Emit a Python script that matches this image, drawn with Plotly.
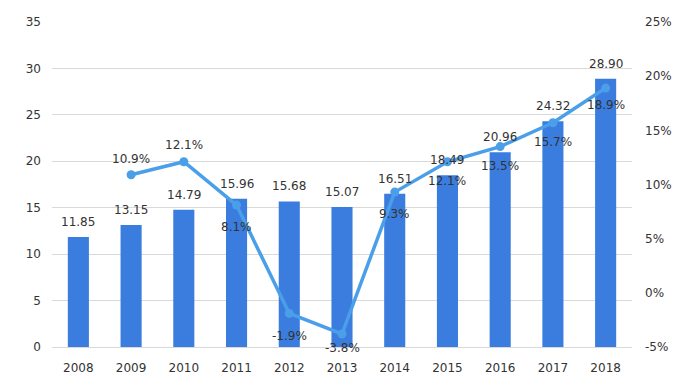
import plotly.graph_objects as go

years = ["2008", "2009", "2010", "2011", "2012", "2013", "2014", "2015", "2016", "2017", "2018"]
values = [11.85, 13.15, 14.79, 15.96, 15.68, 15.07, 16.51, 18.49, 20.96, 24.32, 28.90]
growth_years = ["2009", "2010", "2011", "2012", "2013", "2014", "2015", "2016", "2017", "2018"]
growth = [10.9, 12.1, 8.1, -1.9, -3.8, 9.3, 12.1, 13.5, 15.7, 18.9]
pct_ticks = [-5, 0, 5, 10, 15, 20, 25]

# label offsets (px) for growth labels, by year
label_shift = {"2009": 16, "2010": 17, "2011": -22, "2012": -23, "2013": -14,
               "2014": -22, "2015": -19, "2016": -19, "2017": -19, "2018": -17}

font = dict(family="DejaVu Sans, Verdana, sans-serif", size=12, color="#333333")

fig = go.Figure()
fig.add_trace(go.Bar(
    x=years, y=values,
    marker=dict(color="#3a7ddf", line=dict(width=0)),
    width=0.4, yaxis="y",
))
fig.add_trace(go.Scatter(
    x=growth_years, y=growth,
    mode="lines+markers",
    line=dict(color="#4a9fe8", width=3.5),
    marker=dict(color="#4a9fe8", size=9),
    yaxis="y2", cliponaxis=False,
))

annotations = []
for yr, v in zip(years, values):
    annotations.append(dict(x=years.index(yr), y=v, xref="x", yref="y", text=f"{v:.2f}",
                            showarrow=False, yshift=15, font=font))
for yr, g in zip(growth_years, growth):
    annotations.append(dict(x=years.index(yr), y=g, xref="x", yref="y2", text=f"{g:.1f}%",
                            showarrow=False, yshift=label_shift[yr], font=font))

# page body has an 8px margin, so the figure is sized to fit the 680x387 window
fig.update_layout(
    width=672, height=379,
    margin=dict(l=44, r=48, t=14, b=40, autoexpand=False),
    paper_bgcolor="white", plot_bgcolor="white",
    showlegend=False, font=font,
    annotations=annotations,
    xaxis=dict(type="category", categoryorder="array", categoryarray=years,
               range=[-0.5, len(years) - 0.5], showgrid=False, showline=True,
               linecolor="#d9d9d9", ticks="", tickfont=font, automargin=False,
               ticklabelstandoff=10),
    yaxis=dict(range=[0, 35], dtick=5, showgrid=True, gridcolor="#d9d9d9",
               zeroline=False, ticks="", tickfont=font, ticklabelstandoff=10,
               automargin=False),
    yaxis2=dict(range=[-5, 25], tickvals=pct_ticks, ticktext=[f"{t}%" for t in pct_ticks],
                overlaying="y", side="right", showgrid=False, zeroline=False, ticks="",
                tickfont=font, ticklabelstandoff=12, automargin=False),
)

fig.write_html("out.html")
